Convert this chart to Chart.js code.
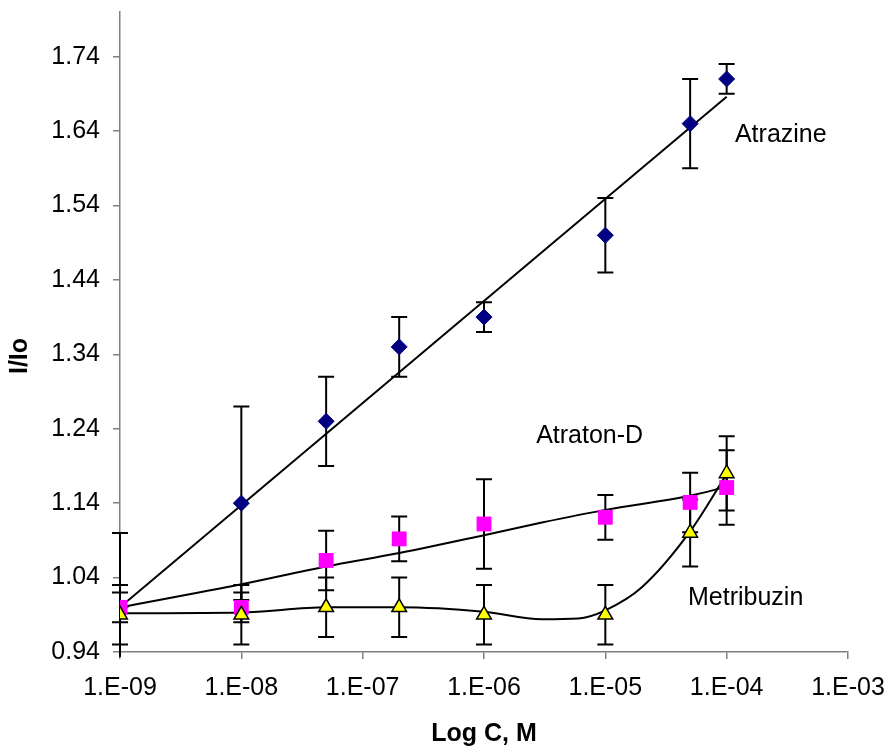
<!DOCTYPE html>
<html>
<head>
<meta charset="utf-8">
<script src="https://cdn.jsdelivr.net/npm/chart.js@4.4.1/dist/chart.umd.min.js"></script>
<style>
  html, body { margin: 0; padding: 0; background: #fff; }
  #wrap { width: 890px; height: 753px; }
</style>
</head>
<body>
<div id="wrap"><canvas id="chart"></canvas></div>
<script>
// concentrations (M) and measured I/Io values
const conc = [1e-9, 1e-8, 5e-8, 2e-7, 1e-6, 1e-5, 5e-5, 1e-4];
const atrazine = [1.00, 1.14, 1.25, 1.35, 1.39, 1.50, 1.65, 1.71];
const atrazineErr = [0.02, 0.13, 0.06, 0.04, 0.02, 0.05, 0.06, 0.02];
const atratonD = [1.00, 1.00, 1.063, 1.092, 1.112, 1.121, 1.141, 1.161];
const atratonDErr = [0.10, 0.02, 0.04, 0.03, 0.06, 0.03, 0.04, 0.05];
const metribuzin = [0.99, 0.99, 1.00, 1.00, 0.99, 0.99, 1.10, 1.18];
const metribuzinErr = [0.04, 0.04, 0.04, 0.04, 0.04, 0.04, 0.045, 0.05];

// fitted curves
const atrazineFitX = [1e-9, 1e-4];
const atrazineFitY = [1.0, 1.686];
const atratonFitX = [1e-9, 1e-8, 5e-8, 2e-7, 1e-6, 3e-6, 1e-5, 5e-5, 1e-4];
const atratonFitY = [1.0, 1.031, 1.055, 1.073, 1.097, 1.114, 1.131, 1.150, 1.162];
const metribuzinFitX = [1e-9, 1e-8, 5e-8, 2e-7, 1e-6, 3e-6, 6e-6, 1e-5, 2e-5, 5e-5, 1e-4];
const metribuzinFitY = [0.992, 0.993, 1.0, 1.0, 0.994, 0.984, 0.985, 0.996, 1.027, 1.102, 1.179];

// axis ticks
const xTicks = [1e-9, 1e-8, 1e-7, 1e-6, 1e-5, 1e-4, 1e-3];
const yTicks = [0.94, 1.04, 1.14, 1.24, 1.34, 1.44, 1.54, 1.64, 1.74];

const seriesNames = ['Atrazine', 'Atraton-D', 'Metribuzin'];

const FONT = "'Liberation Sans', Arial, sans-serif";

function pts(xs, ys) {
  return xs.map(function (x, i) { return {x: x, y: ys[i]}; });
}

// where the series names sit (data coords, left aligned)
const nameSpots = [
  {x: 1.17e-4, y: 1.635},
  {x: 2.69e-6, y: 1.230},
  {x: 4.8e-5, y: 1.0126}
];

const errorBars = {
  id: 'errorBars',
  beforeDatasetsDraw: function (chart) {
    const ctx = chart.ctx;
    const xs = chart.scales.x, ys = chart.scales.y;
    const area = chart.chartArea;
    ctx.save();
    ctx.beginPath();
    ctx.rect(area.left - 10, area.top, area.right - area.left + 20, area.bottom - area.top + 5);
    ctx.clip();
    ctx.strokeStyle = '#000';
    ctx.lineWidth = 2;
    chart.data.datasets.forEach(function (ds) {
      if (!ds.err) return;
      ds.data.forEach(function (p, i) {
        const px = xs.getPixelForValue(p.x);
        const top = ys.getPixelForValue(p.y + ds.err[i]);
        const bot = ys.getPixelForValue(p.y - ds.err[i]);
        ctx.beginPath();
        ctx.moveTo(px, top); ctx.lineTo(px, bot);
        ctx.moveTo(px - 8, top); ctx.lineTo(px + 8, top);
        ctx.moveTo(px - 8, bot); ctx.lineTo(px + 8, bot);
        ctx.stroke();
      });
    });
    ctx.restore();
  },
  afterDraw: function (chart) {
    const ctx = chart.ctx;
    const xs = chart.scales.x, ys = chart.scales.y;
    ctx.save();
    ctx.fillStyle = '#000';
    ctx.font = '25px ' + FONT;
    ctx.textAlign = 'left';
    ctx.textBaseline = 'middle';
    seriesNames.forEach(function (n, i) {
      ctx.fillText(n, xs.getPixelForValue(nameSpots[i].x), ys.getPixelForValue(nameSpots[i].y));
    });
    // y axis title
    ctx.translate(20, 356);
    ctx.rotate(-Math.PI / 2);
    ctx.textAlign = 'center';
    ctx.font = 'bold 25px ' + FONT;
    ctx.fillText('I/Io', 0, 0);
    ctx.restore();
  }
};

new Chart(document.getElementById('chart'), {
  type: 'scatter',
  data: {
    datasets: [
      {
        label: 'Atrazine', data: pts(conc, atrazine), err: atrazineErr,
        pointStyle: 'rectRot', pointRadius: 8, backgroundColor: '#000080',
        borderColor: '#000080', pointBorderWidth: 1, order: 3
      },
      {
        label: 'Atraton-D', data: pts(conc, atratonD), err: atratonDErr,
        pointStyle: 'rect', pointRadius: 10.5, backgroundColor: '#FF00FF',
        borderColor: '#FF00FF', pointBorderWidth: 0, order: 2
      },
      {
        label: 'Metribuzin', data: pts(conc, metribuzin), err: metribuzinErr,
        pointStyle: 'triangle', pointRadius: 8.5, backgroundColor: '#FFFF00',
        borderColor: '#000', pointBorderWidth: 1.5, order: 1
      },
      {
        data: pts(atrazineFitX, atrazineFitY), showLine: true, pointRadius: 0,
        borderColor: '#000', borderWidth: 2, order: 10
      },
      {
        data: pts(atratonFitX, atratonFitY), showLine: true, pointRadius: 0,
        borderColor: '#000', borderWidth: 2, cubicInterpolationMode: 'monotone', order: 10
      },
      {
        data: pts(metribuzinFitX, metribuzinFitY), showLine: true, pointRadius: 0,
        borderColor: '#000', borderWidth: 2, cubicInterpolationMode: 'monotone', order: 10
      }
    ]
  },
  options: {
    responsive: true,
    maintainAspectRatio: false,
    animation: false,
    events: [],
    layout: { padding: { top: 12, right: 42, left: 0, bottom: 0 } },
    plugins: { legend: { display: false }, tooltip: { enabled: false } },
    scales: {
      x: {
        type: 'logarithmic',
        min: 1e-9, max: 1e-3,
        afterBuildTicks: function (s) { s.ticks = xTicks.map(function (v) { return {value: v}; }); },
        afterFit: function (s) { s.height = 101; s.paddingLeft = 0; s.paddingRight = 0; },
        border: { color: '#808080', width: 1.5 },
        grid: { drawOnChartArea: false, tickLength: 7, tickColor: '#808080', lineWidth: 1.5 },
        ticks: {
          color: '#000', padding: 14, maxRotation: 0, autoSkip: false,
          font: { family: FONT, size: 25 },
          callback: function (v) {
            const e = Math.round(Math.log10(v));
            return '1.E' + (e < 0 ? '-' : '+') + String(Math.abs(e)).padStart(2, '0');
          }
        },
        title: {
          display: true, text: 'Log C, M', color: '#000',
          font: { family: FONT, size: 25, weight: 'bold' },
          padding: { top: 0, bottom: 4 }
        }
      },
      y: {
        min: 0.94, max: 1.80,
        afterBuildTicks: function (s) { s.ticks = yTicks.map(function (v) { return {value: v}; }); },
        afterFit: function (s) { s.width = 120; s.paddingTop = 0; s.paddingBottom = 0; },
        border: { color: '#808080', width: 1.5 },
        grid: { drawOnChartArea: false, tickLength: 7, tickColor: '#808080', lineWidth: 1.5 },
        ticks: {
          color: '#000', padding: 13,
          font: { family: FONT, size: 25 },
          callback: function (v) { return v.toFixed(2); }
        }
      }
    }
  },
  plugins: [errorBars]
});
</script>
</body>
</html>
